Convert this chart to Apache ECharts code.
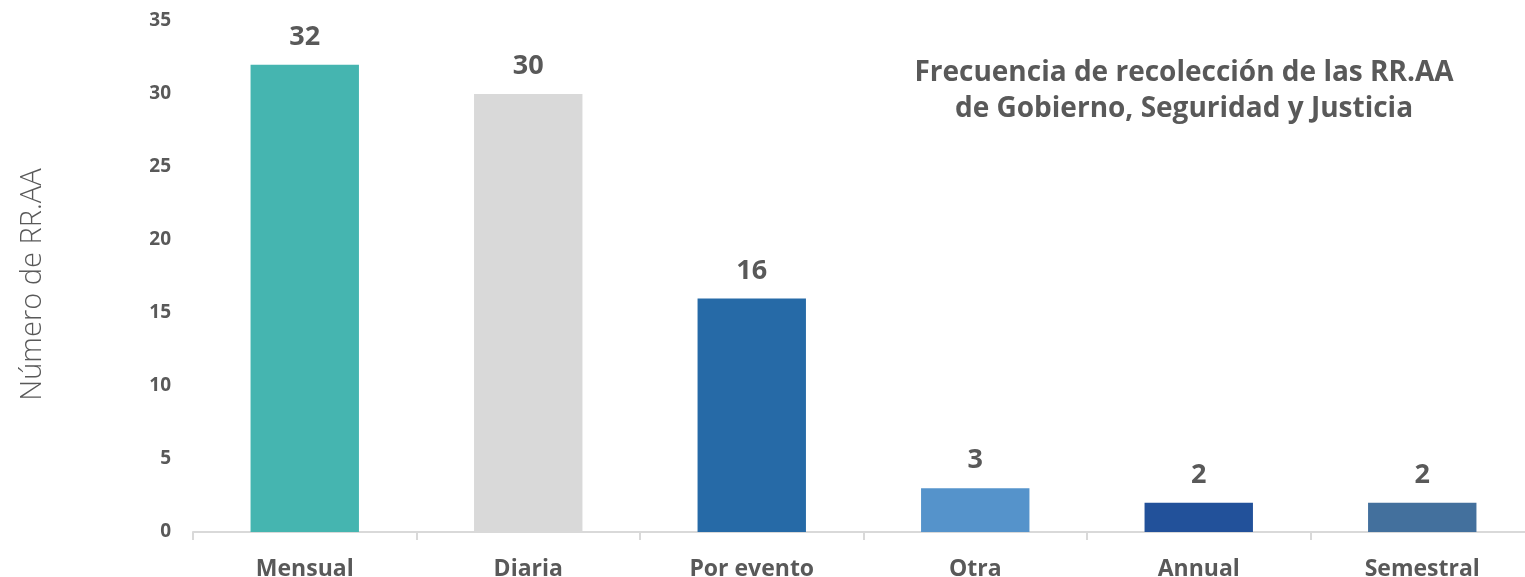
<!DOCTYPE html>
<html><head><meta charset="utf-8">
<script src="https://cdn.jsdelivr.net/npm/echarts@6/dist/echarts.min.js"></script>
<style>html,body{margin:0;padding:0;background:#fff}#c{width:1525px;height:577px}</style>
</head><body><div id="c"></div>
<script>
const categories = ['Mensual','Diaria','Por evento','Otra','Annual','Semestral'];
const values = [32,30,16,3,2,2];
const barColors = ['#45B5B0','#D9D9D9','#266AA7','#5593CB','#22519A','#43709D'];
const yTicks = [0,5,10,15,20,25,30,35];
const titleLines = ['Frecuencia de recolección de las RR.AA','de Gobierno, Seguridad y Justicia'];
const yName = 'Número de RR.AA';

const txt = '#595959';
const font = '"Open Sans", sans-serif';
const chart = echarts.init(document.getElementById('c'));
chart.setOption({
  animation:false,
  title:{text:titleLines.join('\n'), left:1179, top:50, textAlign:'center',
    textStyle:{fontFamily:font, fontWeight:'bold', fontSize:28, color:txt, lineHeight:36}},
  grid:{left:193, right:-9, top:21, bottom:45, outerBoundsMode:'none', containLabel:false},
  xAxis:{type:'category', data:categories,
    axisLine:{lineStyle:{color:'#D9D9D9', width:2}},
    axisTick:{show:true, length:8, lineStyle:{color:'#D9D9D9', width:2}},
    axisLabel:{fontFamily:font, fontWeight:'bold', fontSize:23, color:txt, margin:26}},
  yAxis:{type:'value', min:yTicks[0], max:yTicks[yTicks.length-1], interval:5,
    name:yName, nameLocation:'middle', nameGap:146, nameRotate:90,
    nameTextStyle:{fontFamily:font, fontWeight:300, fontSize:29, color:txt, padding:[0,16,0,0]},
    axisLine:{show:false}, axisTick:{show:false}, splitLine:{show:false},
    axisLabel:{fontFamily:font, fontWeight:'bold', fontSize:19, color:txt, margin:22}},
  series:[{type:'bar', barWidth:'48.5%',
    data:values.map((v,i)=>({value:v, itemStyle:{color:barColors[i]}})),
    label:{show:true, position:'top', distance:14, fontFamily:font, fontWeight:'bold', fontSize:27, color:txt}}]
});
</script></body></html>
